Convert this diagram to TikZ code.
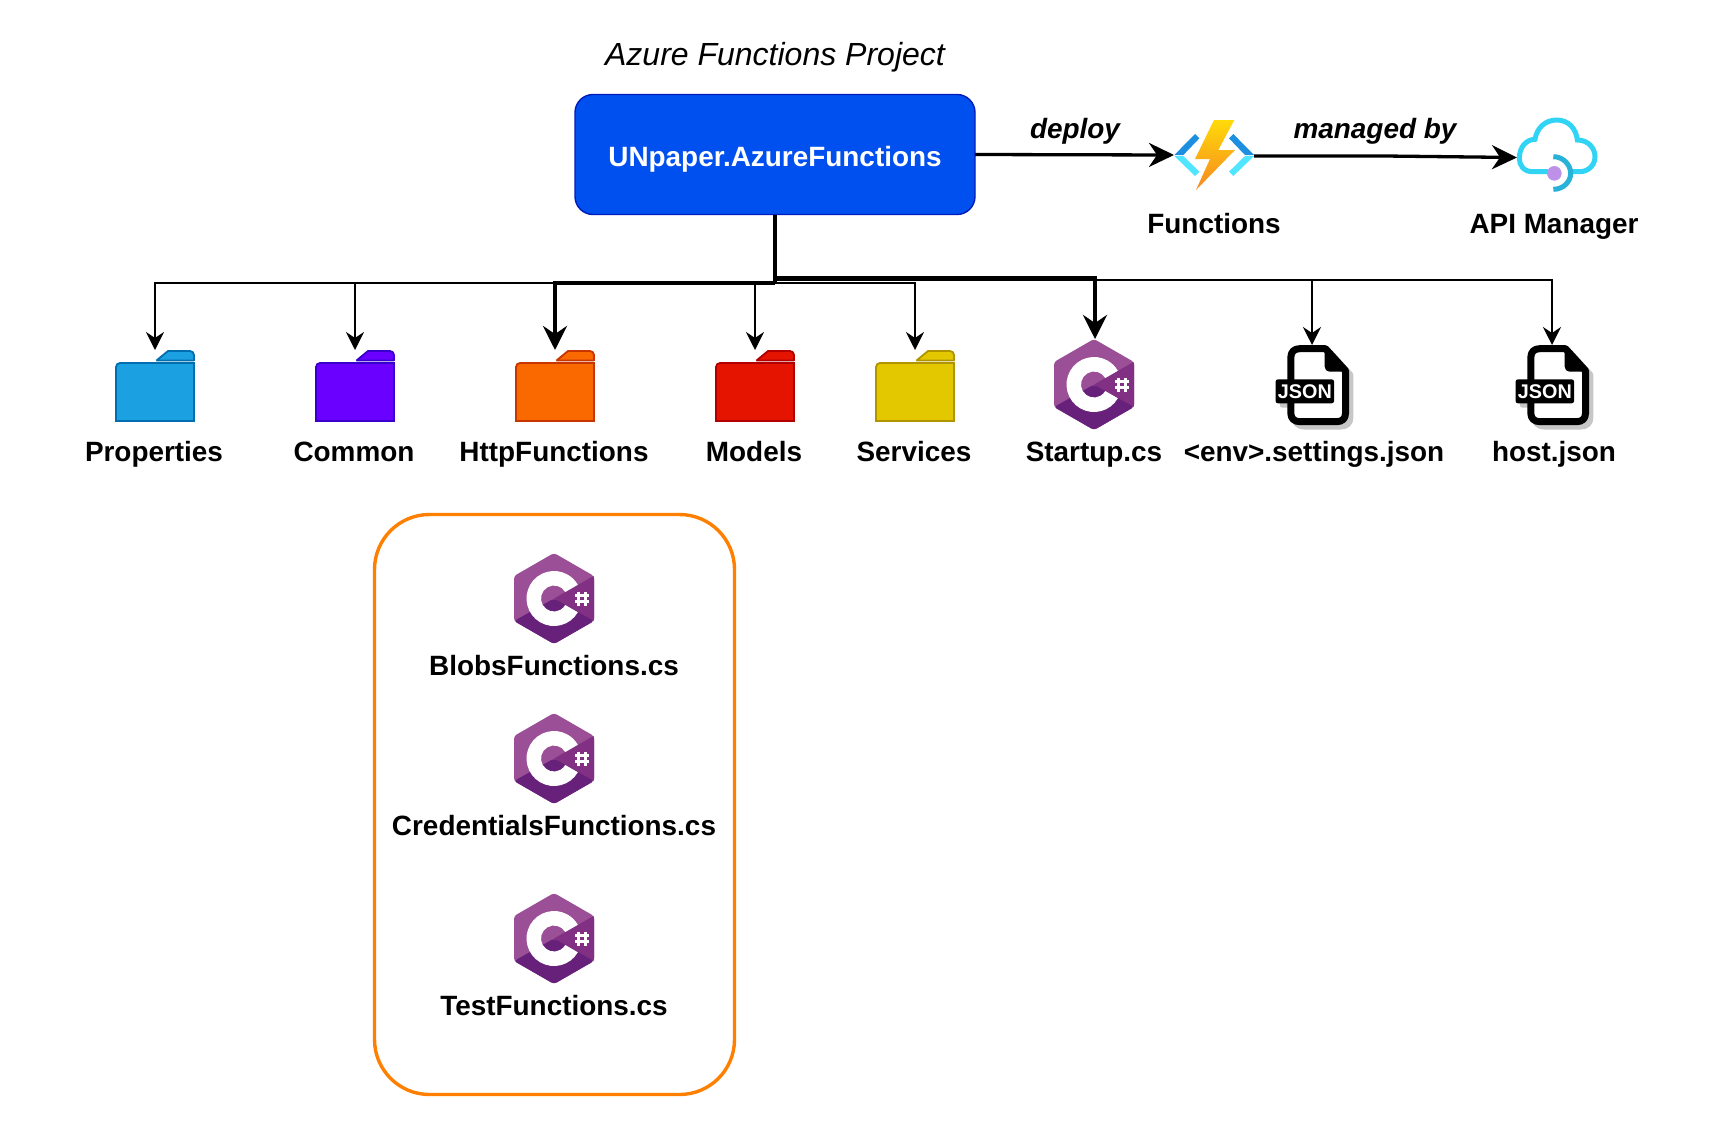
\documentclass[tikz,border=0pt]{standalone}
\usepackage{fontspec}
\setmainfont{Liberation Sans}
\usetikzlibrary{arrows.meta}
\definecolor{csA}{HTML}{9B4F96}
\definecolor{csB}{HTML}{813084}
\definecolor{csC}{HTML}{68217A}
\definecolor{boxfill}{RGB}{0,80,239}
\definecolor{boxline}{RGB}{0,29,188}
\definecolor{fblueF}{RGB}{27,161,226}
\definecolor{fblueL}{RGB}{0,110,175}
\definecolor{fvioF}{RGB}{106,0,255}
\definecolor{fvioL}{RGB}{55,0,204}
\definecolor{forgF}{RGB}{250,104,0}
\definecolor{forgL}{RGB}{199,53,0}
\definecolor{fredF}{RGB}{229,20,0}
\definecolor{fredL}{RGB}{178,0,0}
\definecolor{fyelF}{RGB}{227,200,0}
\definecolor{fyelL}{RGB}{176,149,0}
\definecolor{chevD}{RGB}{28,143,224}
\definecolor{chevL}{RGB}{80,230,255}
\definecolor{boltT}{RGB}{255,218,10}
\definecolor{boltB}{RGB}{247,135,30}
\definecolor{cloudA}{RGB}{50,212,245}
\definecolor{cloudB}{RGB}{41,178,216}
\definecolor{cloudDot}{RGB}{190,145,232}
\definecolor{grpline}{RGB}{255,128,0}
\tikzset{
  x=1pt,y=-1pt,
  lbl/.style={anchor=base,inner sep=0pt,font=\fontsize{27.9}{30}\selectfont\bfseries,text=black},
  edgelbl/.style={anchor=base,inner sep=0pt,font=\fontsize{27.9}{30}\selectfont\bfseries\itshape,text=black},
  slot/.style={inner sep=0pt,outer sep=0pt,minimum width=#1,minimum height=72pt},
  thinarrow/.style={draw=black,line width=2.2pt,-{Stealth[length=18pt,width=18pt,inset=6pt]}},
  thickarrow/.style={draw=black,line width=4.2pt,-{Stealth[length=24pt,width=24pt,inset=8pt]}},
  midarrow/.style={draw=black,line width=3.3pt,-{Stealth[length=25pt,width=24pt,inset=8pt]}},
  trunk/.style={draw=black,line width=3.3pt},
  iconslot/.style={inner sep=0pt,outer sep=0pt,minimum width=80pt,minimum height=91pt},
}
\newcommand{\foldericon}[3]{%
  \begin{scope}[shift={(#1.center)}]
    \path[fill=#2,draw=#3,line width=1.8pt]
      (39,35) -- (-39,35) [rounded corners=4pt] -- (-39,-23) [sharp corners] -- (39,-23) -- cycle;
    \path[fill=#2,draw=#3,line width=1.8pt,line join=bevel]
      (1.5,-25.5) -- (13,-35) [rounded corners=4pt] -- (39,-35) [sharp corners] -- (39,-25.5) -- cycle;
  \end{scope}}
\newcommand{\csicon}[1]{%
  \begin{scope}[shift={(#1.center)}]
    \path[fill=csA,rounded corners=3pt] (0,-45.5) -- (40,-22.5) -- (40,22.5) -- (0,45.5) -- (-40,22.5) -- (-40,-22.5) -- cycle;
    \path[fill=csB] (0,0) -- (39.5,-22.5) -- (40,-20) -- (40,20) -- (39.5,22.5) -- cycle;
    \path[fill=csC,rounded corners=3pt] (0,0) -- (40,22.5) -- (0,45.5) -- (-40,22.5) -- cycle;
    \path[fill=white] (30:27.5) arc (30:330:27.5) -- (330:13) arc (330:30:13) -- cycle;
    \draw[white,line width=3pt] (24.5,-7) -- (24.5,7) (31.5,-7) -- (31.5,7) (21,-3.2) -- (35,-3.2) (21,3.2) -- (35,3.2);
  \end{scope}}
\newcommand{\jsonshape}[2]{%
  \path[fill=#2,draw=#1,line width=7pt,line join=round]
    (811,180) -- (811,112) .. controls (811,95) and (822,86) .. (838,86) -- (915,86) -- (975,152) -- (975,280) .. controls (975,296) and (965,305) .. (948,305) -- (838,305) .. controls (822,305) and (811,296) .. (811,280) -- cycle;
  \path[fill=#1,draw=#1,line width=2pt,line join=round] (915,88) -- (975,152) -- (930,152) .. controls (920,152) and (915,146) .. (915,138) -- cycle;
  \path[fill=#1,rounded corners=2.5pt] (765,178) rectangle (941,250);}
\newcommand{\jsonicon}[2]{%
  \begin{scope}[shift={(#1.center)},shift={(-291.5,-65)},x=0.33333pt,y=-0.33333pt]
    \begin{scope}[shift={(13,13)}]\jsonshape{black!22}{black!22}\end{scope}
    \jsonshape{black}{white}
    \node[inner sep=0pt,text=white,font=\fontsize{19.8}{20}\selectfont\bfseries] (#2) at (853,214) {JSON};
  \end{scope}}
\begin{document}
\begin{tikzpicture}
\useasboundingbox (0,0) rectangle (1724,1144);
\fill[white] (0,0) rectangle (1724,1144);

% nodes
\node[inner sep=0pt,outer sep=0pt,minimum width=400pt,minimum height=120pt,rounded corners=18pt,fill=boxfill,draw=boxline,line width=1.4pt] (box) at (775,154.5) {};
\node[anchor=base,inner sep=0pt,font=\fontsize{27.9}{30}\selectfont\bfseries,text=white] (boxtext) at (775,166) {UNpaper.AzureFunctions};
\node[anchor=base,inner sep=0pt,font=\fontsize{32}{32}\selectfont\itshape] (title) at (775,65) {Azure Functions Project};

\node[slot=80pt] (fProperties) at (155,386) {};
\node[slot=80pt] (fCommon) at (355,386) {};
\node[slot=80pt] (fHttp) at (555,386) {};
\node[slot=80pt] (fModels) at (755,386) {};
\node[slot=80pt] (fServices) at (915,386) {};
\foldericon{fProperties}{fblueF}{fblueL}
\foldericon{fCommon}{fvioF}{fvioL}
\foldericon{fHttp}{forgF}{forgL}
\foldericon{fModels}{fredF}{fredL}
\foldericon{fServices}{fyelF}{fyelL}

\node[iconslot] (cStartup) at (1094,384.5) {};
\csicon{cStartup}
\node[inner sep=0pt,outer sep=0pt,minimum width=73pt,minimum height=80pt] (jEnv) at (1312,385) {};
\node[inner sep=0pt,outer sep=0pt,minimum width=73pt,minimum height=80pt] (jHost) at (1552,385) {};
\jsonicon{jEnv}{jEnvText}
\jsonicon{jHost}{jHostText}

% Functions icon
\node[inner sep=0pt,outer sep=0pt,minimum width=80pt,minimum height=70pt] (funcs) at (1214,155) {};
\begin{scope}[shift={(1140,90)},x=0.33333pt,y=-0.33333pt]
  \fill[chevD] (103,195) -- (165,132) -- (178,145) -- (130,195) -- cycle;
  \fill[chevL] (103,198) -- (165,258) -- (178,245) -- (130,198) -- cycle;
  \fill[chevD] (342,195) -- (280,132) -- (267,145) -- (315,195) -- cycle;
  \fill[chevL] (342,198) -- (280,258) -- (267,245) -- (315,198) -- cycle;
  \path[top color=boltT,bottom color=boltB]
    (222,90) -- (283,90) -- (235,180) -- (285,180) -- (168,300) -- (210,207) -- (165,207) -- cycle;
\end{scope}

% API Manager icon
\node[inner sep=0pt,outer sep=0pt,minimum width=80pt,minimum height=74pt] (api) at (1557,155) {};
\begin{scope}[shift={(1140,90)},x=0.33333pt,y=-0.33333pt]
  \draw[cloudA,line width=5pt,line cap=round]
    (1222,245) -- (1178,245) .. controls (1150,245) and (1138,225) .. (1138,205) .. controls (1138,170) and (1160,148) .. (1185,148) .. controls (1190,115) and (1215,90) .. (1250,90) .. controls (1285,90) and (1308,115) .. (1312,150) .. controls (1345,150) and (1365,175) .. (1365,200) .. controls (1365,225) and (1345,245) .. (1320,245) -- (1297,245);
  \draw[cloudB,line width=5pt]
    (1240,200) .. controls (1270,200) and (1292,225) .. (1292,250) .. controls (1292,275) and (1270,298) .. (1240,298);
  \fill[cloudDot] (1243,250) circle (7.3pt);
\end{scope}

% connectors
\coordinate (busL) at (775,282.6);
\coordinate (busT) at (775,278);
\coordinate (busR) at (775,280);
\coordinate (kink) at (1385,156);
\draw[thinarrow] (busL) -| (fProperties.north);
\draw[thinarrow] (busL) -| (fCommon.north);
\draw[thinarrow] (busL) -| (fModels.north);
\draw[thinarrow] (busL) -| (fServices.north);
\draw[thinarrow] (busR) -| (jEnv.north);
\draw[thinarrow] (busR) -| (jHost.north);
\draw[thickarrow] (busL) -| (fHttp.north);
\draw[thickarrow] (busT) -| ([xshift=1pt]cStartup.north);
\draw[trunk] (box.south) -- (busL);
\draw[midarrow] (box.east) -- (funcs.west);
\draw[midarrow] ([yshift=-1pt]funcs.east) -- (kink) -- ([yshift=-2.5pt]api.west);

% labels
\node[edgelbl] (deploy) at (1075,138) {deploy};
\node[edgelbl] (managed) at (1375,138) {managed by};
\node[lbl] (tFunctions) at (1214,233) {Functions};
\node[lbl] (tApi) at (1554,233) {API Manager};
\node[lbl] (tProperties) at (154,461) {Properties};
\node[lbl] (tCommon) at (354,461) {Common};
\node[lbl] (tHttp) at (554,461) {HttpFunctions};
\node[lbl] (tModels) at (754,461) {Models};
\node[lbl] (tServices) at (914,461) {Services};
\node[lbl] (tStartup) at (1094,461) {Startup.cs};
\node[lbl] (tEnv) at (1314,461) {<env>.settings.json};
\node[lbl] (tHost) at (1554,461) {host.json};

% group
\node[inner sep=0pt,outer sep=0pt,minimum width=360pt,minimum height=580pt,draw=grpline,line width=3.4pt,rounded corners=55pt] (group) at (554.5,804.5) {};
\node[iconslot] (cBlobs) at (554,598.5) {};
\node[iconslot] (cCred) at (554,758.5) {};
\node[iconslot] (cTest) at (554,938.5) {};
\csicon{cBlobs}
\csicon{cCred}
\csicon{cTest}
\node[lbl] (tBlobs) at (554,675) {BlobsFunctions.cs};
\node[lbl] (tCred) at (554,835) {CredentialsFunctions.cs};
\node[lbl] (tTest) at (554,1015) {TestFunctions.cs};
\end{tikzpicture}
\end{document}
